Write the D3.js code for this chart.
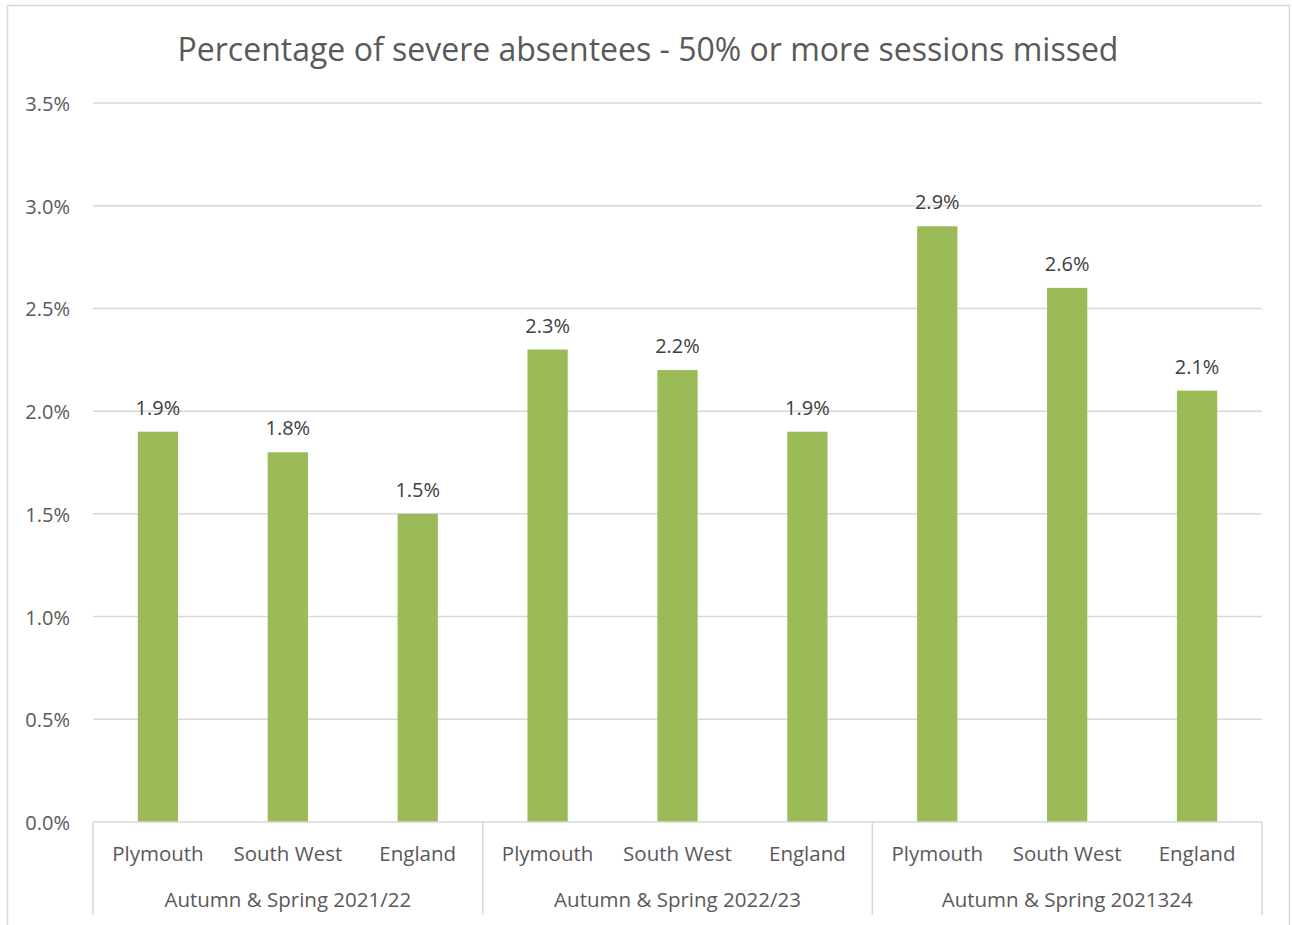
<!doctype html>
<html lang="en">
<head>
<meta charset="utf-8">
<title>Severe absentees</title>
<script src="https://d3js.org/d3.v7.min.js"></script>
<style>
  body { margin: 0; background: #fff; }
  svg text { font-family: "Open Sans", "Noto Sans", sans-serif; }
</style>
</head>
<body>
<div id="chart"></div>
<script>
// data
var periods = ["Autumn & Spring 2021/22", "Autumn & Spring 2022/23", "Autumn & Spring 2021324"];
var areas = ["Plymouth", "South West", "England"];
var values = [
  [1.9, 1.8, 1.5],
  [2.3, 2.2, 1.9],
  [2.9, 2.6, 2.1]
];
var yTicks = [0, 0.5, 1.0, 1.5, 2.0, 2.5, 3.0, 3.5];

var width = 1292, height = 925;
var plotLeft = 93, plotRight = 1262, plotTop = 103, plotBottom = 822;

var svg = d3.select("#chart").append("svg")
  .attr("width", width).attr("height", height);

// chart border
svg.append("rect")
  .attr("x", 7.5).attr("y", 5.5)
  .attr("width", 1282).attr("height", 940)
  .attr("fill", "#fff").attr("stroke", "#d9d9d9").attr("stroke-width", 1.5);

// flatten rows
var rows = [];
periods.forEach(function (p, i) {
  areas.forEach(function (a, j) {
    rows.push({ key: i + "-" + j, period: p, area: a, value: values[i][j] });
  });
});

var xStep = d3.scaleBand().domain(rows.map(d => d.key)).range([plotLeft, plotRight]);
var x = d3.scaleBand().domain(rows.map(d => d.key)).range([plotLeft, plotRight])
  .paddingInner(0.69).paddingOuter(0.345);
var y = d3.scaleLinear().domain([0, 3.5]).range([plotBottom, plotTop]);

// gridlines
svg.append("g").selectAll("line").data(yTicks.slice(1)).join("line")
  .attr("x1", plotLeft).attr("x2", plotRight)
  .attr("y1", d => y(d)).attr("y2", d => y(d))
  .attr("stroke", "#d9d9d9").attr("stroke-width", 1.5);

// y labels
svg.append("g").selectAll("text").data(yTicks).join("text")
  .attr("x", 70).attr("y", d => y(d) + 8)
  .attr("text-anchor", "end")
  .attr("font-size", 20).attr("fill", "#595959")
  .text(d => d.toFixed(1) + "%");

// bars
svg.append("g").selectAll("rect").data(rows).join("rect")
  .attr("x", d => x(d.key))
  .attr("width", x.bandwidth())
  .attr("y", d => y(d.value))
  .attr("height", d => y(0) - y(d.value))
  .attr("fill", "#9bbb59");

// value labels
svg.append("g").selectAll("text").data(rows).join("text")
  .attr("x", d => x(d.key) + x.bandwidth() / 2)
  .attr("y", d => y(d.value) - 17)
  .attr("text-anchor", "middle")
  .attr("font-size", 20).attr("fill", "#404040")
  .text(d => d.value.toFixed(1) + "%");

// x axis line and group separators
svg.append("line")
  .attr("x1", plotLeft).attr("x2", plotRight)
  .attr("y1", plotBottom).attr("y2", plotBottom)
  .attr("stroke", "#d9d9d9").attr("stroke-width", 1.5);

var groupW = (plotRight - plotLeft) / periods.length;
var seps = d3.range(periods.length + 1).map(i => plotLeft + i * groupW);
svg.append("g").selectAll("line").data(seps).join("line")
  .attr("x1", d => d).attr("x2", d => d)
  .attr("y1", plotBottom).attr("y2", 915)
  .attr("stroke", "#d9d9d9").attr("stroke-width", 1.5);

// category labels
svg.append("g").selectAll("text").data(rows).join("text")
  .attr("x", d => xStep(d.key) + xStep.bandwidth() / 2)
  .attr("y", 861)
  .attr("text-anchor", "middle")
  .attr("font-size", 20.5).attr("fill", "#595959")
  .text(d => d.area);

// period labels
svg.append("g").selectAll("text").data(periods).join("text")
  .attr("x", (d, i) => plotLeft + (i + 0.5) * groupW)
  .attr("y", 907)
  .attr("text-anchor", "middle")
  .attr("font-size", 20.5).attr("fill", "#595959")
  .text(d => d);

// title
svg.append("text")
  .attr("x", 648).attr("y", 61)
  .attr("text-anchor", "middle")
  .attr("font-size", 32).attr("fill", "#595959")
  .text("Percentage of severe absentees - 50% or more sessions missed");
</script>
</body>
</html>
